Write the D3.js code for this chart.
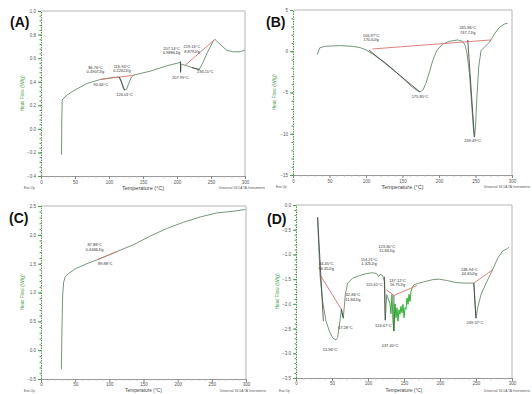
<!DOCTYPE html>
<html>
<head>
<meta charset="utf-8">
<script src="https://cdn.jsdelivr.net/npm/d3@7"></script>
<style>
  body { margin: 0; background: #fff; }
  svg { display: block; font-family: Arial, "Liberation Sans", sans-serif; }
</style>
</head>
<body>
<script>
// ---- data: [temperature °C, heat flow W/g] ----

const curveA = [[30.2,-0.22],[30.5,0.05],[31.2,0.245],[35,0.27],[39,0.29],[50,0.33],[68,0.386],[88,0.42],[107,0.437],[115,0.44],
  [118,0.41],[121,0.34],[123,0.33],[126,0.335],[129,0.386],[133,0.44],[136.5,0.456],[161,0.49],[185,0.535],[202.4,0.56],
  [205,0.57],[205.3,0.48],[206,0.55],[214.6,0.535],[222,0.52],[229,0.507],[232.7,0.504],[238,0.56],[244,0.64],[253.7,0.75],
  [256,0.758],[263,0.72],[273,0.667],[283,0.654],[293,0.654],[300,0.668]];
const redA = [[[88,0.42],[137,0.455]], [[212,0.54],[255,0.755]]];
const blackA = [[[115,0.44],[123,0.33]], [[205,0.57],[205.3,0.48]], [[222,0.52],[233,0.504]]];
// [line 1, line 2, temperature, heat flow] for the text position
const notesA = [
  ["86.76°C", "0.4907J/g", 80, 0.51], ["90.64°C", "", 88, 0.36],
  ["116.94°C", "0.2262J/g", 119, 0.52], ["126.01°C", "", 123, 0.28],
  ["207.14°C", "0.9886J/g", 192, 0.67], ["207.99°C", "", 205, 0.425],
  ["219.16°C", "8.879J/g", 222, 0.685], ["236.11°C", "", 241.5, 0.476]
];
const yTicksA = [1.0, 0.8, 0.6, 0.4, 0.2, 0.0, -0.2, -0.4];

const curveB = [[33.3,-0.4],[36.5,0.4],[43,0.6],[64,0.68],[82,0.6],[93.5,0.4],[100,0.16],[109,-0.32],[128,-1.5],[146,-2.9],
  [164,-4.4],[171,-4.8],[174,-4.94],[178,-4.7],[182,-3.9],[187,-2.5],[191.5,-1.1],[197,0.08],[205,0.88],[214,1.2],
  [225.7,1.37],[232.5,1.2],[236,0.68],[238.5,-0.32],[241.7,-2.7],[245,-6.75],[247,-9.2],[248.5,-10.4],[250,-9.2],
  [251.7,-5.9],[254.4,-1.9],[257.6,0.08],[262,0.48],[269,1.08],[276,2.1],[282.7,2.9],[289.6,3.3],[294,3.4]];
const redB = [[[109,0.28],[271,1.37]]];
const blackB = [[[104,0.15],[174,-4.94]], [[239.4,1.37],[248.5,-10.4]]];
const notesB = [
  ["106.97°C", "170.6J/g", 107, 1.75], ["175.85°C", "", 174, -5.66],
  ["245.86°C", "747.7J/g", 239.4, 2.65], ["249.49°C", "", 246, -11.0]
];
const yTicksB = [5, 0, -5, -10, -15];

const curveC = [[29.8,-0.33],[30.7,0.38],[31.7,0.96],[33.2,1.18],[35.6,1.28],[40.5,1.33],[50,1.41],[67.3,1.5],[86.8,1.59],
  [111,1.71],[135.6,1.83],[160,1.98],[184,2.11],[208.8,2.22],[233,2.31],[257.6,2.38],[282,2.41],[299,2.44]];
const redC = [[[83,1.57],[111,1.71]]];
const blackC = [];
const notesC = [["87.88°C", "0.6466J/g", 78.5, 1.80], ["89.88°C", "", 94, 1.48]];
const yTicksC = [2.5, 2.0, 1.5, 1.0, 0.5, 0.0, -0.5];

const curveD = [[30,-0.25],[31.5,-0.81],[33.3,-1.41],[37,-1.95],[41.7,-2.35],[46.3,-2.55],[51,-2.69],[55.5,-2.73],
  [57.9,-2.68],[61,-2.35],[63,-2.11],[65.7,-2.29],[68.5,-1.81],[71.8,-1.58],[78.7,-1.48],[88,-1.43],[97,-1.39],
  [106.5,-1.37],[112,-1.39],[114.8,-1.45],[116.7,-1.4],[120.4,-1.43],[122.7,-1.55],[124,-2.33],[126,-1.81],[128.7,-1.93]];
const noiseD = [[128.7,-1.93],[130.5,-2.0],[131.9,-2.2],[133.3,-1.81],[134.7,-2.35],[136,-2.55],[137.5,-2.0],[138.9,-2.28],
  [140.3,-2.08],[141.7,-2.35],[143.1,-2.12],[144.4,-2.21],[145.8,-2.05],[147.2,-2.18],[148.6,-2.01],[150,-2.28],
  [151.4,-2.08],[152.8,-2.11],[154.2,-1.88],[155.6,-2.01],[157,-1.81],[158.3,-1.95],[159.7,-1.75],[162,-1.65],[164,-1.61]];
const tailD = [[164,-1.61],[176,-1.56],[190,-1.51],[199,-1.5],[210.6,-1.53],[222,-1.57],[236,-1.58],[247,-1.58],
  [248.6,-2.01],[250,-2.29],[252.3,-2.08],[257,-1.81],[264,-1.58],[273,-1.31],[280,-1.08],[287,-0.93],[294,-0.88],[296,-0.85]];
const redD = [[[33.3,-1.41],[63,-2.11]], [[125,-1.71],[136,-1.83],[168,-1.63]], [[247,-1.58],[273,-1.31]]];
const blackD = [[[30,-0.25],[38,-2.35]], [[63,-2.11],[65.7,-2.29]], [[123,-1.45],[124,-2.33]],
  [[136,-1.83],[136,-2.55]], [[247,-1.58],[250,-2.29]]];
const notesD = [
  ["34.45°C", "96.35J/g", 42, -1.22], ["62.86°C", "11.84J/g", 79, -1.84],
  ["67.28°C", "", 68.5, -2.51], ["51.96°C", "", 47.2, -2.95], ["114.21°C", "1.325J/g", 101.4, -1.13],
  ["123.60°C", "15.84J/g", 126, -0.86], ["115.61°C", "", 108.8, -1.63],
  ["137.12°C", "16.75J/g", 141, -1.55], ["124.67°C", "", 121.3, -2.47], ["137.40°C", "", 130.6, -2.87],
  ["248.94°C", "44.65J/g", 240.7, -1.33], ["249.57°C", "", 248.6, -2.41]
];
const yTicksD = [0.0, -0.5, -1.0, -1.5, -2.0, -2.5, -3.0, -3.5];

const xTicks = [0, 50, 100, 150, 200, 250, 300];

// ---- drawing ----
const svg = d3.select('body').append('svg').attr('width', 532).attr('height', 394);

const curveColor = '#76977a';
const axisGreen = '#4a9a4a';

function drawPanel(p) {
  const x = d3.scaleLinear().domain([0, 300]).range([p.left, p.right]);
  const y = d3.scaleLinear().domain(d3.extent(p.yTicks)).range([p.bottom, p.top]);
  const g = svg.append('g');

  // frame top / right
  g.append('path')
    .attr('d', `M${p.left},${p.top}H${p.right}V${p.bottom}`)
    .attr('fill', 'none').attr('stroke', '#b5b5b5').attr('stroke-width', 1);

  // bottom axis with minor ticks
  const xMinor = d3.range(0, 301, 10);
  g.append('g').attr('transform', `translate(0,${p.bottom})`)
    .call(d3.axisBottom(x).tickValues(xMinor).tickSize(1.5).tickFormat(''))
    .call(a => a.select('.domain').attr('stroke', '#999'))
    .call(a => a.selectAll('.tick line').attr('stroke', '#aaa'));
  g.append('g').attr('transform', `translate(0,${p.bottom})`)
    .call(d3.axisBottom(x).tickValues(xTicks).tickSize(3).tickPadding(p.tickPad))
    .call(a => a.select('.domain').remove())
    .call(a => a.selectAll('.tick line').attr('stroke', '#888'))
    .call(a => a.selectAll('text').attr('font-size', 4.5).attr('fill', '#555'));

  // left axis, green with minor ticks
  const step = (p.yTicks[0] - p.yTicks[1]) / 5;
  const lo = d3.min(p.yTicks), hi = d3.max(p.yTicks);
  const yMinor = d3.range(0, Math.round((hi - lo) / step) + 1).map(i => lo + i * step);
  g.append('g').attr('transform', `translate(${p.left},0)`)
    .call(d3.axisLeft(y).tickValues(yMinor).tickSize(1.5).tickFormat(''))
    .call(a => a.select('.domain').attr('stroke', axisGreen).attr('stroke-dasharray', '1.5,1'))
    .call(a => a.selectAll('.tick line').attr('stroke', axisGreen));
  g.append('g').attr('transform', `translate(${p.left},0)`)
    .call(d3.axisLeft(y).tickValues(p.yTicks).tickSize(3).tickPadding(2).tickFormat(d3.format(p.fmt)))
    .call(a => a.select('.domain').remove())
    .call(a => a.selectAll('.tick line').attr('stroke', axisGreen))
    .call(a => a.selectAll('text').attr('font-size', 4.5).attr('fill', '#555'));

  // axis titles and footer
  g.append('text')
    .attr('transform', `translate(${p.left - 17},${(p.top + p.bottom) / 2}) rotate(-90)`)
    .attr('text-anchor', 'middle').attr('font-size', 5).attr('fill', axisGreen)
    .text('Heat Flow (W/g)');
  g.append('text').attr('x', (p.left + p.right) / 2).attr('y', p.bottom + p.titleDy)
    .attr('text-anchor', 'middle').attr('font-size', p.titleSize).attr('fill', '#444')
    .text('Temperature (°C)');
  g.append('text').attr('x', p.left - 17).attr('y', p.bottom + p.footDy)
    .attr('font-size', 3.3).attr('fill', '#555').text('Exo Up');
  g.append('text').attr('x', Math.min(p.right + 20, 530)).attr('y', p.bottom + p.footDy)
    .attr('text-anchor', 'end').attr('font-size', 3.3).attr('fill', '#555')
    .text('Universal V4.5A TA Instruments');

  const line = d3.line().x(d => x(d[0])).y(d => y(d[1]));

  p.curves.forEach(c => {
    g.append('path').datum(c.data).attr('d', line)
      .attr('fill', 'none').attr('stroke', c.color).attr('stroke-width', 1)
      .attr('stroke-linejoin', 'round');
  });
  p.red.forEach(seg => {
    g.append('path').datum(seg).attr('d', line)
      .attr('fill', 'none').attr('stroke', '#d9736f').attr('stroke-width', 0.9);
  });
  p.black.forEach(seg => {
    g.append('path').datum(seg).attr('d', line)
      .attr('fill', 'none').attr('stroke', '#3a3a3a').attr('stroke-width', 0.8);
  });

  const notes = g.selectAll('text.note').data(p.notes).enter().append('text')
    .attr('class', 'note')
    .attr('x', d => x(d[2])).attr('y', d => y(d[3]))
    .attr('text-anchor', 'middle').attr('font-size', 4).attr('fill', '#333');
  notes.append('tspan').text(d => d[0]);
  notes.filter(d => d[1]).append('tspan')
    .attr('x', d => x(d[2])).attr('dy', 4.6).text(d => d[1]);

  svg.append('text').attr('x', p.labelX).attr('y', p.labelY)
    .attr('font-size', 14).attr('font-weight', 'bold').attr('fill', '#111')
    .text(p.label);
}

drawPanel({ label: '(A)', labelX: 10, labelY: 27, left: 41, right: 245, top: 11, bottom: 176,
  tickPad: 1.5, titleDy: 14, titleSize: 5.5, footDy: 13,
  yTicks: yTicksA, fmt: '.1f', curves: [{ data: curveA, color: curveColor }], red: redA, black: blackA, notes: notesA });
drawPanel({ label: '(B)', labelX: 266, labelY: 27, left: 293, right: 512, top: 10, bottom: 175,
  tickPad: 1.5, titleDy: 14, titleSize: 5.5, footDy: 13,
  yTicks: yTicksB, fmt: 'd', curves: [{ data: curveB, color: curveColor }], red: redB, black: blackB, notes: notesB });
drawPanel({ label: '(C)', labelX: 9, labelY: 223, left: 41, right: 246, top: 206, bottom: 379,
  tickPad: 0.5, titleDy: 13, titleSize: 4.8, footDy: 13,
  yTicks: yTicksC, fmt: '.1f', curves: [{ data: curveC, color: curveColor }], red: redC, black: blackC, notes: notesC });
drawPanel({ label: '(D)', labelX: 267, labelY: 224, left: 296, right: 512, top: 205, bottom: 378,
  tickPad: 0.5, titleDy: 13.5, titleSize: 4.8, footDy: 13.5,
  yTicks: yTicksD, fmt: '.1f',
  curves: [{ data: curveD, color: curveColor }, { data: noiseD, color: '#2fb02f' }, { data: tailD, color: curveColor }],
  red: redD, black: blackD, notes: notesD });
</script>
</body>
</html>
